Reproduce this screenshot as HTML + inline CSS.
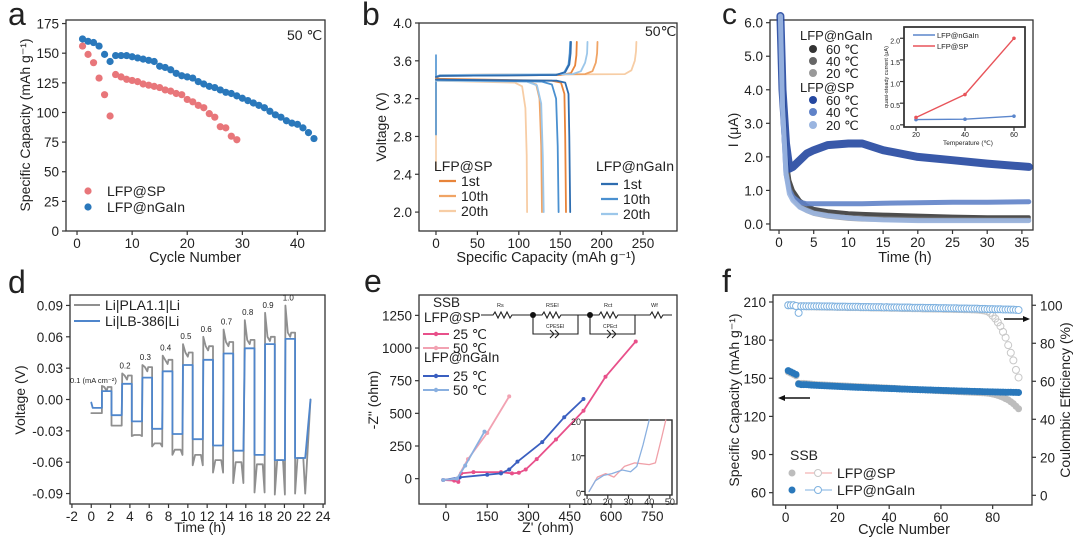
<!DOCTYPE html>
<html><head><meta charset="utf-8"><style>
html,body{margin:0;padding:0;background:#fff;}
svg{display:block;font-family:"Liberation Sans",Arial,sans-serif;}
</style></head><body>
<svg id="fig" width="1080" height="544" viewBox="0 0 1080 544" xmlns="http://www.w3.org/2000/svg"></svg>
<script>
// ---------- DATA ----------
// panel a
const aCyclesSP = [1,2,3,4,5,6,7,8,9,10,11,12,13,14,15,16,17,18,19,20,21,22,23,24,25,26,27,28,29];
const aCapSP = [156,149,142,129,115,97,132,130,128,127,126,124,123,122,121,119,118,116,115,111,109,106,104,99,96,88,87,80,77];
const aCyclesGa = [1,2,3,4,5,6,7,8,9,10,11,12,13,14,15,16,17,18,19,20,21,22,23,24,25,26,27,28,29,30,31,32,33,34,35,36,37,38,39,40,41,42,43];
const aCapGa = [162,160,159,156,149,143,148,148,148,147,146,145,144,143,139,138,136,133,131,130,129,126,124,122,121,119,117,116,114,112,110,108,106,104,101,98,96,93,91,90,87,83,78];
// panel b (capacity, voltage) key points
const bSP1c=[[0,3.42],[5,3.44],[150,3.45],[163,3.47],[168,3.55],[169.5,3.66],[170,3.8]];
const bSP1d=[[0,3.41],[140,3.39],[151,3.37],[155,3.25],[156,2.8],[157,2.0]];
const bSP10c=[[0,3.42],[5,3.45],[180,3.46],[189,3.49],[193,3.58],[194.5,3.68],[195,3.8]];
const bSP10d=[[0,3.4],[110,3.38],[121,3.35],[125,3.2],[127,2.7],[128,2.0]];
const bSP20c=[[0,3.42],[5,3.45],[228,3.46],[236,3.5],[240,3.6],[241.5,3.7],[242,3.8]];
const bSP20d=[[0,3.39],[95,3.37],[104,3.33],[108,3.1],[109.5,2.6],[110,2.0]];
const bGa1c=[[0,3.43],[5,3.44],[145,3.45],[156,3.48],[161,3.56],[162.5,3.68],[163,3.8]];
const bGa1d=[[0,3.4],[146,3.39],[156,3.37],[160,3.25],[161,2.8],[162,2.0]];
const bGa10c=[[0,3.43],[5,3.44],[145,3.45],[155,3.48],[160,3.56],[161.5,3.68],[162,3.8]];
const bGa10d=[[0,3.4],[128,3.38],[140,3.35],[145,3.2],[147,2.7],[148,2.0]];
const bGa20c=[[0,3.43],[5,3.45],[165,3.46],[175,3.49],[180,3.58],[182.5,3.68],[183,3.8]];
const bGa20d=[[0,3.39],[110,3.38],[122,3.34],[127,3.15],[129,2.6],[130,2.0]];
// panel c
const cTime=[0.2,0.5,1,1.5,2,3,4,5,7,10,12,15,20,25,30,36];
const cSP60=[6.2,4,2.4,1.65,1.7,1.9,2.1,2.2,2.35,2.4,2.4,2.2,2.0,1.9,1.8,1.7];
const cSP40=[6.2,3.5,1.5,1.0,0.8,0.65,0.6,0.6,0.6,0.6,0.6,0.62,0.63,0.65,0.65,0.66];
const cSP20=[6.2,3.5,1.5,0.9,0.7,0.5,0.4,0.32,0.25,0.18,0.15,0.12,0.1,0.1,0.1,0.1];
const cGa60=[6.2,4.5,2.0,1.3,1.0,0.7,0.55,0.45,0.38,0.32,0.3,0.28,0.25,0.22,0.2,0.2];
const cGa40=[6.2,4,1.8,1.1,0.85,0.6,0.45,0.35,0.28,0.2,0.18,0.17,0.16,0.15,0.14,0.14];
const cGa20=[6.2,3.8,1.6,1,0.75,0.5,0.38,0.3,0.22,0.15,0.13,0.12,0.1,0.1,0.1,0.1];
const cInsetT=[20,40,60];
const cInsetGa=[0.12,0.13,0.2];
const cInsetSP=[0.17,0.7,2.0];
// panel d
const dCur=['0.1','0.2','0.3','0.4','0.5','0.6','0.7','0.8','0.9','1.0'];
const dStart=[1.1,3.2,5.3,7.4,9.5,11.6,13.7,15.9,18.0,20.1];
const dBluePos=[0.008,0.015,0.021,0.027,0.033,0.038,0.044,0.049,0.053,0.058];
const dBlueNeg=[-0.015,-0.021,-0.028,-0.033,-0.038,-0.044,-0.049,-0.053,-0.058,-0.056];
const dGreyPos=[0.012,0.023,0.031,0.038,0.045,0.051,0.055,0.057,0.060,0.064];
const dGreyPeak=[0.013,0.025,0.033,0.042,0.053,0.060,0.067,0.076,0.083,0.090];
const dGreyNeg=[-0.025,-0.034,-0.042,-0.048,-0.053,-0.058,-0.060,-0.062,-0.058,-0.056];
const dGreyTrough=[-0.025,-0.035,-0.045,-0.053,-0.063,-0.070,-0.080,-0.089,-0.091,-0.090];
// panel e
const eSP25=[[-10,-10],[30,-15],[45,-25],[55,40],[100,50],[200,50],[240,40],[265,45],[290,70],[330,150],[400,300],[500,520],[580,780],[690,1050]];
const eGa25=[[-10,-10],[50,10],[150,30],[200,40],[230,70],[260,130],[350,280],[430,470],[500,610]];
const eSP50=[[-10,-10],[40,0],[80,150],[150,350],[230,630]];
const eGa50=[[-10,-10],[40,0],[70,100],[140,360]];
const eInSP=[[11,0],[13,2],[15,4],[19,5],[23,4],[28,7],[33,8],[40,7.5],[43,8],[46,15],[48,20]];
const eInGa=[[11,0],[14,3],[18,4.5],[22,5],[27,6],[31,5.5],[34,7],[37,13],[40,20]];
// panel f
const fCapGa=[156,155,154,153,145.5,145,145,145,144.8,144.6,144.5,144.4,144.3,144.2,144.1,144,143.9,143.8,143.7,143.6,143.5,143.4,143.3,143.2,143.1,143,142.9,142.8,142.8,142.7,142.6,142.5,142.4,142.4,142.3,142.2,142.1,142,142,141.9,141.8,141.8,141.7,141.6,141.5,141.5,141.4,141.3,141.2,141.2,141.1,141,141,140.9,140.8,140.8,140.7,140.6,140.6,140.5,140.4,140.4,140.3,140.2,140.2,140.1,140,140,139.9,139.9,139.8,139.7,139.7,139.6,139.6,139.5,139.4,139.4,139.3,139.3,139.2,139.2,139.1,139.1,139,139,139,138.9,138.9,138.8];
const fCapSP=[155,154,153,152,146,146,146,145.8,145.6,145.4,145.2,145,144.9,144.8,144.7,144.6,144.5,144.4,144.3,144.2,144.1,144,143.9,143.8,143.7,143.6,143.5,143.4,143.3,143.2,143.1,143,142.9,142.8,142.7,142.6,142.5,142.4,142.3,142.2,142.1,142,141.9,141.8,141.7,141.6,141.5,141.4,141.3,141.2,141.1,141,140.9,140.8,140.7,140.6,140.5,140.4,140.3,140.2,140.1,140,139.9,139.8,139.7,139.6,139.5,139.4,139.3,139.2,139.1,139,138.9,138.8,138.7,138.6,138.5,138.3,138,137.6,137.1,136.5,135.8,135,134,133,131.5,130,128,126];
const fCEGa=[100,100,100,99.6,96,99.5,99.5,99.5,99.5,99.5,99.5,99.5,99.5,99.4,99.4,99.4,99.4,99.4,99.3,99.3,99.3,99.3,99.3,99.2,99.2,99.2,99.2,99.2,99.1,99.1,99.1,99.1,99,99,99,99,99,98.9,99,98.9,98.9,98.9,98.9,98.8,98.8,98.8,98.8,98.8,98.7,98.7,98.7,98.7,98.7,98.6,98.6,98.6,98.6,98.6,98.5,98.5,98.5,98.5,98.4,98.4,98.4,98.4,98.3,98.3,98.3,98.3,98.2,98.2,98.2,98.2,98.1,98.1,98.1,98,98,98,97.9,97.9,97.9,97.8,97.8,97.8,97.7,97.7,97.6,97.5];
const fCESP=[100,100,100,99.5,99.5,99.5,99.5,99.4,99.4,99.4,99.4,99.3,99.3,99.3,99.3,99.2,99.2,99.2,99.2,99.1,99.1,99.1,99.1,99,99,99,99,99,98.9,98.9,98.9,98.9,98.8,98.8,98.8,98.8,98.7,98.7,98.7,98.7,98.6,98.6,98.6,98.6,98.5,98.5,98.5,98.5,98.4,98.4,98.4,98.4,98.3,98.3,98.3,98.3,98.2,98.2,98.2,98.2,98.1,98.1,98.1,98.1,98,98,98,98,97.9,97.9,97.9,97.8,97.8,97.7,97.6,97.4,97.2,96.8,96,94.5,93,91,89,86,83,79,75,71,66,62];

// ---------- HELPERS ----------
const NS='http://www.w3.org/2000/svg';
const svg=document.getElementById('fig');
function mk(tag,attrs,name,parent){
  const e=document.createElementNS(NS,tag);
  for(const k in attrs) e.setAttribute(k,attrs[k]);
  
  
  (parent||svg).appendChild(e);
  return e;
}
function txt(x,y,s,size,name,opt){
  opt=opt||{};
  const a={x:x,y:y,'font-size':size,fill:opt.fill||'#222','text-anchor':opt.anchor||'start'};
  if(opt.rot) a.transform='rotate('+opt.rot+' '+x+' '+y+')';
  if(opt.weight) a['font-weight']=opt.weight;
  const t=mk('text',a,name);
  t.textContent=s;
  return t;
}
function axes(p,box,xr,yr,xt,yt,o){
  o=o||{};
  const sx=v=>box.l+(v-xr[0])/(xr[1]-xr[0])*(box.r-box.l);
  const sy=v=>box.b-(v-yr[0])/(yr[1]-yr[0])*(box.b-box.t);
  mk('rect',{x:box.l,y:box.t,width:box.r-box.l,height:box.b-box.t,fill:'none',stroke:'#333','stroke-width':o.sw||1.3},p+'-plot-frame');
  const fs=o.fs||13.5;
  xt.forEach(v=>{
    const X=sx(v);
    mk('line',{x1:X,y1:box.b,x2:X,y2:box.b+4,stroke:'#333','stroke-width':1.2},p+'-x-tick');
    txt(X,box.b+(o.xoff||17),o.xfmt?o.xfmt(v):String(v),fs,p+'-x-tick-label',{anchor:'middle'});
  });
  yt.forEach(v=>{
    const Y=sy(v);
    mk('line',{x1:box.l-4,y1:Y,x2:box.l,y2:Y,stroke:'#333','stroke-width':1.2},p+'-y-tick');
    txt(box.l-(o.yoff||7),Y+5,o.yfmt?o.yfmt(v):String(v),fs,p+'-y-tick-label',{anchor:'end'});
  });
  return {sx,sy};
}
function pl(pts,sx,sy,stroke,w,name,extra){
  const a={points:pts.map(p=>sx(p[0]).toFixed(1)+','+sy(p[1]).toFixed(1)).join(' '),fill:'none',stroke:stroke,'stroke-width':w,'stroke-linejoin':'round','stroke-linecap':'round'};
  if(extra) for(const k in extra) a[k]=extra[k];
  return mk('polyline',a,name);
}
const zip=(a,b)=>a.map((v,i)=>[v,b[i]]);

// ---------- PANEL A ----------
txt(8,25,'a',32,'panel-a-letter');
{
  const A=axes('a',{l:66,r:325,t:20,b:231},[-2,45],[0,178],[0,10,20,30,40],[0,25,50,75,100,125,150,175]);
  aCyclesSP.forEach((c,i)=>{
    const e=mk('circle',{cx:A.sx(c),cy:A.sy(aCapSP[i]),r:3.6,fill:'#e8767a'},'a-sp-point');
  });
  aCyclesGa.forEach((c,i)=>{
    mk('circle',{cx:A.sx(c),cy:A.sy(aCapGa[i]),r:3.6,fill:'#2a78bb'},'a-ngain-point');
  });
  txt(287,40,'50 ℃',14,'a-temperature-label');
  mk('circle',{cx:88,cy:191,r:3.6,fill:'#e8767a'},'a-legend-sp-marker');
  txt(107,196,'LFP@SP',14,'a-legend-sp-label');
  mk('circle',{cx:88,cy:207,r:3.6,fill:'#2a78bb'},'a-legend-ngain-marker');
  txt(107,212,'LFP@nGaIn',14,'a-legend-ngain-label');
  txt(30,125,'Specific Capacity (mAh g⁻¹)',14,'a-y-axis-title',{anchor:'middle',rot:-90});
  txt(195,262,'Cycle Number',14.5,'a-x-axis-title',{anchor:'middle'});
}
// ---------- PANEL B ----------
txt(362,25,'b',32,'panel-b-letter');
{
  const B=axes('b',{l:419,r:677,t:23,b:231},[-20.5,291],[1.8,4.0],[0,50,100,150,200,250],[2.0,2.4,2.8,3.2,3.6,4.0],{yfmt:v=>v.toFixed(1)});
  const cols={sp1:'#e8843a',sp10:'#f0a465',sp20:'#f7cda5',ga1:'#2e6db0',ga10:'#4a90d0',ga20:'#9cc7ea'};
  pl([[0,2.45],[0,3.4]],B.sx,B.sy,cols.sp20,1.6,'b-sp-initial-drop');
  pl([[0,2.82],[0,3.66],[0,3.42]],B.sx,B.sy,cols.ga10,1.6,'b-ngain-initial-spike');
  [[bSP20c,bSP20d,cols.sp20,'sp-20th'],[bSP10c,bSP10d,cols.sp10,'sp-10th'],[bSP1c,bSP1d,cols.sp1,'sp-1st'],[bGa20c,bGa20d,cols.ga20,'ngain-20th'],[bGa10c,bGa10d,cols.ga10,'ngain-10th'],[bGa1c,bGa1d,cols.ga1,'ngain-1st']].forEach(s=>{
    pl(s[0],B.sx,B.sy,s[2],1.8,'b-'+s[3]+'-charge-curve');
    pl(s[1],B.sx,B.sy,s[2],1.8,'b-'+s[3]+'-discharge-curve');
  });
  txt(645,36,'50℃',14,'b-temperature-label');
  txt(434,171,'LFP@SP',14,'b-legend-sp-title');
  [['1st',cols.sp1,186],['10th',cols.sp10,201],['20th',cols.sp20,216]].forEach(r=>{
    mk('line',{x1:439,y1:r[2]-5,x2:456,y2:r[2]-5,stroke:r[1],'stroke-width':2.2},'b-legend-sp-line');
    txt(461,r[2],r[0],14,'b-legend-sp-label');
  });
  txt(596,171,'LFP@nGaIn',14,'b-legend-ngain-title');
  [['1st',cols.ga1,189],['10th',cols.ga10,204],['20th',cols.ga20,219]].forEach(r=>{
    mk('line',{x1:601,y1:r[2]-5,x2:618,y2:r[2]-5,stroke:r[1],'stroke-width':2.2},'b-legend-ngain-line');
    txt(623,r[2],r[0],14,'b-legend-ngain-label');
  });
  txt(386,127,'Voltage (V)',14,'b-y-axis-title',{anchor:'middle',rot:-90});
  txt(546,262,'Specific Capacity (mAh g⁻¹)',14.5,'b-x-axis-title',{anchor:'middle'});
}
// ---------- PANEL C ----------
txt(722,24,'c',30,'panel-c-letter');
{
  const C=axes('c',{l:770,r:1033,t:20,b:230},[-1.3,36.6],[-0.18,6.08],[0,5,10,15,20,25,30,35],[0,1,2,3,4,5,6],{yfmt:v=>v.toFixed(1)});
  const series=[[cGa60,'#3a3a3a',4,'ngain-60c'],[cGa40,'#6a6a6a',4,'ngain-40c'],[cGa20,'#a0a0a0',4,'ngain-20c'],[cSP60,'#2447a0',8,'sp-60c'],[cSP40,'#5f82c8',5,'sp-40c'],[cSP20,'#9ab5e0',5,'sp-20c']];
  series.forEach(s=>{
    pl(zip(cTime,s[0]),C.sx,C.sy,s[1],s[2],'c-'+s[3]+'-current',{'stroke-opacity':0.9});
  });
  txt(800,40,'LFP@nGaIn',13,'c-legend-ngain-title');
  [['#333',49],['#666',61],['#999',73]].forEach((r,i)=>{
    mk('circle',{cx:813,cy:r[1],r:4,fill:r[0]},'c-legend-ngain-marker');
    txt(826,r[1]+5,['60 ℃','40 ℃','20 ℃'][i],13,'c-legend-ngain-label');
  });
  txt(800,92,'LFP@SP',13,'c-legend-sp-title');
  [['#2447a0',100],['#5f82c8',112],['#9ab5e0',125]].forEach((r,i)=>{
    mk('circle',{cx:813,cy:r[1],r:4,fill:r[0]},'c-legend-sp-marker');
    txt(826,r[1]+5,['60 ℃','40 ℃','20 ℃'][i],13,'c-legend-sp-label');
  });
  txt(738,130,'I (μA)',14,'c-y-axis-title',{anchor:'middle',rot:-90});
  txt(905,262,'Time (h)',14.5,'c-x-axis-title',{anchor:'middle'});
  // inset
  mk('rect',{x:904,y:27,width:121,height:100,fill:'#fff',stroke:'#222','stroke-width':1.5},'c-inset-background');
  const I=axes('c-inset',{l:904,r:1025,t:27,b:127},[15.1,64.5],[-0.05,2.26],[20,40,60],[0,0.5,1.0,1.5,2.0],{fs:7,xoff:10,yoff:4,yfmt:v=>v.toFixed(1),sw:1.5});
  pl(zip(cInsetT,cInsetGa),I.sx,I.sy,'#5b86cc',1.4,'c-inset-ngain-line');
  pl(zip(cInsetT,cInsetSP),I.sx,I.sy,'#e8545a',1.4,'c-inset-sp-line');
  cInsetT.forEach((t,i)=>{
    mk('circle',{cx:I.sx(t),cy:I.sy(cInsetGa[i]),r:1.8,fill:'#5b86cc'},'c-inset-ngain-point');
    mk('circle',{cx:I.sx(t),cy:I.sy(cInsetSP[i]),r:1.8,fill:'#e8545a'},'c-inset-sp-point');
  });
  mk('line',{x1:913,y1:35,x2:935,y2:35,stroke:'#5b86cc','stroke-width':1.4},'c-inset-legend-ngain-line');
  txt(937,38,'LFP@nGaIn',7.5,'c-inset-legend-ngain-label');
  mk('line',{x1:913,y1:46,x2:935,y2:46,stroke:'#e8545a','stroke-width':1.4},'c-inset-legend-sp-line');
  txt(937,49,'LFP@SP',7.5,'c-inset-legend-sp-label');
  txt(968,145,'Temperature (℃)',6.5,'c-inset-x-axis-title',{anchor:'middle'});
  txt(888,77,'quasi-steady current (μA)',5.5,'c-inset-y-axis-title',{anchor:'middle',rot:-90});
}
// ---------- PANEL D ----------
txt(8,293,'d',32,'panel-d-letter');
{
  const D=axes('d',{l:70,r:325,t:295,b:504},[-2.2,24.2],[-0.1,0.1],[-2,0,2,4,6,8,10,12,14,16,18,20,22,24],[-0.09,-0.06,-0.03,0,0.03,0.06,0.09],{yfmt:v=>v.toFixed(2)});
  const grey=[[0,-0.013],[1.1,-0.013]];
  const blue=[[0,-0.003],[0.15,-0.008],[1.1,-0.008]];
  dStart.forEach((t,i)=>{
    grey.push([t,dGreyPeak[i]],[t+0.25,dGreyPos[i]],[t+0.5,dGreyPos[i]-0.004],[t+0.6,dGreyPos[i]],[t+1.0,dGreyPos[i]],[t+1.0,dGreyTrough[i]],[t+1.25,dGreyNeg[i]],[t+1.85,dGreyNeg[i]],[t+2.05,dGreyTrough[i]]);
    blue.push([t,dBluePos[i]],[t+1.0,dBluePos[i]],[t+1.0,dBlueNeg[i]],[t+2.05,dBlueNeg[i]]);
  });
  grey.push([22.7,0]);
  blue.push([22.7,0]);
  pl(grey,D.sx,D.sy,'#8f8f8f',1.8,'d-li-pla-voltage-trace');
  pl(blue,D.sx,D.sy,'#4f86cc',1.8,'d-li-lb386-voltage-trace');
  dStart.forEach((t,i)=>{
    if(i===0) return;
    txt(D.sx(t+0.3),D.sy(dGreyPeak[i])-5,dCur[i],8,'d-current-density-label',{anchor:'middle'});
  });
  txt(70,383,'0.1 (mA cm⁻²)',7.5,'d-current-density-label-first');
  mk('line',{x1:74,y1:305,x2:100,y2:305,stroke:'#8f8f8f','stroke-width':2},'d-legend-pla-line');
  txt(105,310,'Li|PLA1.1|Li',14,'d-legend-pla-label');
  mk('line',{x1:74,y1:321,x2:100,y2:321,stroke:'#4f86cc','stroke-width':2},'d-legend-lb386-line');
  txt(105,326,'Li|LB-386|Li',14,'d-legend-lb386-label');
  txt(25,400,'Voltage (V)',14,'d-y-axis-title',{anchor:'middle',rot:-90});
  txt(200,532,'Time (h)',14,'d-x-axis-title',{anchor:'middle'});
}
// ---------- PANEL E ----------
txt(364,292,'e',32,'panel-e-letter');
{
  const E=axes('e',{l:419,r:677,t:295,b:504},[-98,840],[-194,1406],[0,150,300,450,600,750],[0,250,500,750,1000,1250]);
  const S=[[eSP25,'#e8508a','sp-25c'],[eGa25,'#3a5fc0','ngain-25c'],[eSP50,'#f2a2b2','sp-50c'],[eGa50,'#8ab0e0','ngain-50c']];
  S.forEach(s=>{
    pl(s[0],E.sx,E.sy,s[1],1.8,'e-'+s[2]+'-nyquist');
    s[0].forEach(p=>{ mk('circle',{cx:E.sx(p[0]),cy:E.sy(p[1]),r:2,fill:s[1]},'e-'+s[2]+'-point'); });
  });
  // circuit
  const cy=315;
  mk('path',{d:'M481 '+cy+' L493 '+cy+' l2 -3 l3 6 l3 -6 l3 6 l3 -6 l3 6 l2 -3 L533 '+cy+' M533 '+cy+' L533 334 L578 334 L578 '+cy+' M533 '+cy+' L542 '+cy+' l2 -3 l3 6 l3 -6 l3 6 l3 -6 l3 6 l2 -3 L578 '+cy+' L590 '+cy+' L590 334 L635 334 L635 '+cy+' M590 '+cy+' L599 '+cy+' l2 -3 l3 6 l3 -6 l3 6 l3 -6 l3 6 l2 -3 L635 '+cy+' L650 '+cy+' l2 -3 l3 6 l3 -6 l3 6 l2 -3 L672 '+cy+' M550 330 l4 4 l-4 4 M555 330 l4 4 l-4 4 M607 330 l4 4 l-4 4 M612 330 l4 4 l-4 4',fill:'none',stroke:'#222','stroke-width':1.1},'e-equivalent-circuit');
  mk('circle',{cx:533,cy:cy,r:3,fill:'#111'},'e-circuit-node');
  mk('circle',{cx:590,cy:cy,r:3,fill:'#111'},'e-circuit-node');
  txt(497,307,'Rs',5.5,'e-circuit-rs-label');
  txt(546,307,'RSEI',5.5,'e-circuit-rsei-label');
  txt(604,307,'Rct',5.5,'e-circuit-rct-label');
  txt(651,307,'Wf',5.5,'e-circuit-w-label');
  txt(546,328,'CPESEI',5,'e-circuit-cpe-sei-label');
  txt(603,328,'CPEct',5,'e-circuit-cpe-ct-label');
  // legend
  txt(433,307,'SSB',13.5,'e-legend-title');
  txt(424,322,'LFP@SP',13.5,'e-legend-sp-title');
  txt(424,362,'LFP@nGaIn',13.5,'e-legend-ngain-title');
  [['#e8508a',334,'25 ℃'],['#f2a2b2',348,'50 ℃'],['#3a5fc0',376,'25 ℃'],['#8ab0e0',390,'50 ℃']].forEach(r=>{
    mk('line',{x1:423,y1:r[1],x2:449,y2:r[1],stroke:r[0],'stroke-width':2},'e-legend-line');
    mk('circle',{cx:436,cy:r[1],r:2.2,fill:r[0]},'e-legend-marker');
    txt(453,r[1]+5,r[2],13.5,'e-legend-label');
  });
  txt(378,400,'-Z" (ohm)',14,'e-y-axis-title',{anchor:'middle',rot:-90});
  txt(548,532,"Z' (ohm)",14,'e-x-axis-title',{anchor:'middle'});
  // inset
  mk('rect',{x:585,y:420,width:87,height:75,fill:'#fff',stroke:'#222','stroke-width':1.2},'e-inset-background');
  const I=axes('e-inset',{l:585,r:672,t:420,b:495},[9,51],[-1,20],[10,20,30,40,50],[0,10,20],{fs:9,xoff:10,yoff:4});
  pl(eInSP,I.sx,I.sy,'#f0a0a8',1.3,'e-inset-sp-curve');
  pl(eInGa,I.sx,I.sy,'#8ab0e0',1.3,'e-inset-ngain-curve');
}
// ---------- PANEL F ----------
txt(722,292,'f',32,'panel-f-letter');
{
  const F=axes('f',{l:773,r:1032,t:295,b:505},[-4.9,95.2],[50.3,215.5],[0,20,40,60,80],[60,90,120,150,180,210]);
  const syR=v=>505-(v+5.1)/(105.4+5.1)*210;
  [0,20,40,60,80,100].forEach(v=>{
    mk('line',{x1:1032,y1:syR(v),x2:1036,y2:syR(v),stroke:'#333','stroke-width':1.2},'f-right-y-tick');
    txt(1040,syR(v)+5,String(v),13.5,'f-right-y-tick-label');
  });
  fCESP.forEach((v,i)=>{ mk('circle',{cx:F.sx(i+1),cy:syR(v),r:3.5,fill:'none',stroke:'#c8c8c8','stroke-width':1},'f-sp-ce-point'); });
  fCEGa.forEach((v,i)=>{ mk('circle',{cx:F.sx(i+1),cy:syR(v),r:3.5,fill:'#fff',stroke:'#7fb2e0','stroke-width':1},'f-ngain-ce-point'); });
  fCapSP.forEach((v,i)=>{ mk('circle',{cx:F.sx(i+1),cy:F.sy(v),r:3.5,fill:'#bdbdbd'},'f-sp-capacity-point'); });
  fCapGa.forEach((v,i)=>{ if(i<78) mk('circle',{cx:F.sx(i+1),cy:F.sy(v),r:3.5,fill:'#2a78bb'},'f-ngain-capacity-point'); });
  fCapGa.forEach((v,i)=>{ if(i>=78) mk('circle',{cx:F.sx(i+1),cy:F.sy(v),r:3.5,fill:'#2a78bb'},'f-ngain-capacity-point'); });
  mk('line',{x1:810,y1:398,x2:782,y2:398,stroke:'#111','stroke-width':1.5},'f-left-axis-arrow');
  mk('path',{d:'M778 398 l7 -3 v6 z',fill:'#111'},'f-left-axis-arrowhead');
  mk('line',{x1:1004,y1:319,x2:1025,y2:319,stroke:'#111','stroke-width':1.5},'f-right-axis-arrow');
  mk('path',{d:'M1030 319 l-7 -3 v6 z',fill:'#111'},'f-right-axis-arrowhead');
  txt(790,460,'SSB',14,'f-legend-title');
  mk('circle',{cx:792,cy:473,r:3.5,fill:'#bdbdbd'},'f-legend-sp-capacity-marker');
  mk('line',{x1:805,y1:473,x2:832,y2:473,stroke:'#f0a0a0','stroke-width':1},'f-legend-sp-ce-line');
  mk('circle',{cx:818,cy:473,r:3.5,fill:'#fff',stroke:'#c8c8c8'},'f-legend-sp-ce-marker');
  txt(837,478,'LFP@SP',14,'f-legend-sp-label');
  mk('circle',{cx:792,cy:490,r:3.5,fill:'#2a78bb'},'f-legend-ngain-capacity-marker');
  mk('line',{x1:805,y1:490,x2:832,y2:490,stroke:'#7fb2e0','stroke-width':1},'f-legend-ngain-ce-line');
  mk('circle',{cx:818,cy:490,r:3.5,fill:'#fff',stroke:'#7fb2e0'},'f-legend-ngain-ce-marker');
  txt(837,495,'LFP@nGaIn',14,'f-legend-ngain-label');
  txt(739,400,'Specific Capacity (mAh g⁻¹)',14,'f-left-y-axis-title',{anchor:'middle',rot:-90});
  txt(1070,400,'Coulombic Efficiency (%)',14,'f-right-y-axis-title',{anchor:'middle',rot:-90});
  txt(904,534,'Cycle Number',14.5,'f-x-axis-title',{anchor:'middle'});
}
</script>
</body></html>
